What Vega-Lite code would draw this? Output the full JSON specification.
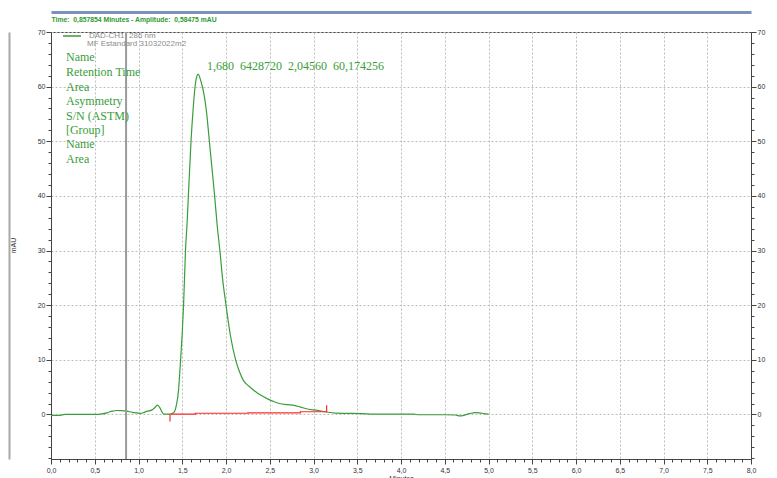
{
  "$schema": "https://vega.github.io/schema/vega-lite/v6.json",
  "width": 700,
  "height": 427,
  "autosize": {"type": "none"},
  "padding": {"left": 51, "top": 32, "right": 26, "bottom": 19},
  "background": "white",
  "config": {
    "view": {"stroke": "#4a4a4a", "strokeWidth": 1},
    "font": "Liberation Sans"
  },
  "datasets": {
    "signal": [
      {"t": 0.0, "v": -0.15}, {"t": 0.1, "v": -0.15}, {"t": 0.16, "v": 0.0}, {"t": 0.3, "v": 0.0},
      {"t": 0.5, "v": 0.0}, {"t": 0.58, "v": 0.1}, {"t": 0.64, "v": 0.3}, {"t": 0.7, "v": 0.6},
      {"t": 0.75, "v": 0.73}, {"t": 0.8, "v": 0.7}, {"t": 0.865, "v": 0.6}, {"t": 0.93, "v": 0.4},
      {"t": 0.98, "v": 0.3}, {"t": 1.02, "v": 0.2}, {"t": 1.06, "v": 0.35}, {"t": 1.1, "v": 0.6},
      {"t": 1.15, "v": 0.8}, {"t": 1.19, "v": 1.3}, {"t": 1.215, "v": 1.7}, {"t": 1.245, "v": 1.2},
      {"t": 1.27, "v": 0.4}, {"t": 1.29, "v": 0.05}, {"t": 1.36, "v": 0.05}, {"t": 1.4, "v": 0.3},
      {"t": 1.43, "v": 1.5}, {"t": 1.455, "v": 4.0}, {"t": 1.477, "v": 9.0}, {"t": 1.5, "v": 15.0},
      {"t": 1.515, "v": 20.0}, {"t": 1.537, "v": 30.0}, {"t": 1.555, "v": 35.0}, {"t": 1.57, "v": 40.0},
      {"t": 1.6, "v": 50.0}, {"t": 1.625, "v": 56.0}, {"t": 1.645, "v": 59.8}, {"t": 1.665, "v": 61.8},
      {"t": 1.683, "v": 62.3}, {"t": 1.70, "v": 61.7}, {"t": 1.72, "v": 60.6}, {"t": 1.744, "v": 59.0},
      {"t": 1.78, "v": 55.0}, {"t": 1.81, "v": 50.0}, {"t": 1.84, "v": 45.0}, {"t": 1.87, "v": 40.0},
      {"t": 1.9, "v": 34.5}, {"t": 1.93, "v": 30.0}, {"t": 1.96, "v": 25.0}, {"t": 2.0, "v": 20.0},
      {"t": 2.05, "v": 14.5}, {"t": 2.11, "v": 10.0}, {"t": 2.15, "v": 8.0}, {"t": 2.2, "v": 6.2},
      {"t": 2.26, "v": 5.2}, {"t": 2.32, "v": 4.4}, {"t": 2.4, "v": 3.5}, {"t": 2.47, "v": 2.9},
      {"t": 2.54, "v": 2.4}, {"t": 2.61, "v": 2.0}, {"t": 2.7, "v": 1.8}, {"t": 2.78, "v": 1.65},
      {"t": 2.85, "v": 1.35}, {"t": 2.93, "v": 1.0}, {"t": 3.0, "v": 0.85}, {"t": 3.06, "v": 0.7},
      {"t": 3.15, "v": 0.45}, {"t": 3.25, "v": 0.25}, {"t": 3.4, "v": 0.2}, {"t": 3.55, "v": 0.15},
      {"t": 3.7, "v": 0.05}, {"t": 4.0, "v": 0.05}, {"t": 4.15, "v": 0.05}, {"t": 4.2, "v": -0.05},
      {"t": 4.5, "v": -0.05}, {"t": 4.62, "v": -0.1}, {"t": 4.66, "v": -0.25}, {"t": 4.72, "v": -0.15},
      {"t": 4.78, "v": 0.15}, {"t": 4.85, "v": 0.35}, {"t": 4.9, "v": 0.3}, {"t": 4.95, "v": 0.15},
      {"t": 5.0, "v": 0.05}
    ],
    "baseline": [
      {"t": 1.37, "v": 0.05}, {"t": 1.65, "v": 0.22}, {"t": 2.25, "v": 0.3}, {"t": 2.85, "v": 0.5}, {"t": 3.15, "v": 0.5}
    ],
    "marks": [
      {"t": 1.36, "v": 0.1, "v2": -1.3},
      {"t": 3.15, "v": 0.4, "v2": 1.7}
    ],
    "cursor": [{"t": 0.858}],
    "labels": [
      {"label": "Name", "t": 0.171, "v": 65.37},
      {"label": "Retention Time", "t": 0.171, "v": 62.73},
      {"label": "Area", "t": 0.171, "v": 59.98},
      {"label": "Asymmetry", "t": 0.171, "v": 57.37},
      {"label": "S/N (ASTM)", "t": 0.171, "v": 54.67},
      {"label": "[Group]", "t": 0.171, "v": 52.07},
      {"label": "Name", "t": 0.171, "v": 49.45},
      {"label": "Area", "t": 0.171, "v": 46.81},
      {"label": "1,680\u00a0\u00a06428720\u00a0\u00a02,04560\u00a0\u00a060,174256", "t": 1.783, "v": 63.8}
    ],
    "sublegend": [{"label": "MF Estandard 31032022m2", "t": 0.411, "v": 67.8}]
  },
  "resolve": {"axis": {"x": "independent", "y": "independent"}},
  "layer": [
    {
      "data": {"name": "signal"},
      "mark": {"type": "line", "strokeWidth": 1.2, "interpolate": "monotone"},
      "encoding": {
        "x": {
          "field": "t", "type": "quantitative",
          "scale": {"domain": [0, 8], "nice": false, "zero": false},
          "axis": {
            "title": "Minutes", "titleFontSize": 7, "titleColor": "#333", "titleFontWeight": "normal",
            "titleBaseline": "top", "titleY": 15,
            "values": [0,0.1,0.2,0.3,0.4,0.5,0.6,0.7,0.8,0.9,1,1.1,1.2,1.3,1.4,1.5,1.6,1.7,1.8,1.9,2,2.1,2.2,2.3,2.4,2.5,2.6,2.7,2.8,2.9,3,3.1,3.2,3.3,3.4,3.5,3.6,3.7,3.8,3.9,4,4.1,4.2,4.3,4.4,4.5,4.6,4.7,4.8,4.9,5,5.1,5.2,5.3,5.4,5.5,5.6,5.7,5.8,5.9,6,6.1,6.2,6.3,6.4,6.5,6.6,6.7,6.8,6.9,7,7.1,7.2,7.3,7.4,7.5,7.6,7.7,7.8,7.9,8],
            "labelExpr": "abs(datum.value*2 - round(datum.value*2)) < 0.01 ? replace(format(datum.value, '.1f'), '.', ',') : ''",
            "labelFontSize": 7, "labelColor": "#333", "labelPadding": 2,
            "labelFlush": false, "labelOverlap": false, "labelBound": false,
            "tickSize": {"condition": {"test": "abs(datum.value*2 - round(datum.value*2)) < 0.01", "value": 5}, "value": 3},
            "tickColor": "#444", "domainColor": "#444",
            "grid": true, "gridColor": "#bdbdbd", "gridDash": [2, 2],
            "gridOpacity": {"condition": {"test": "abs(datum.value*2 - round(datum.value*2)) < 0.01", "value": 1}, "value": 0}
          }
        },
        "y": {
          "field": "v", "type": "quantitative",
          "scale": {"domain": [-8.15, 70], "nice": false, "zero": false},
          "axis": {
            "title": "mAU", "titleFontSize": 7, "titleColor": "#333", "titleFontWeight": "normal",
            "titleAngle": -90, "titleX": -38, "titleY": 213, "titleAlign": "center", "titleBaseline": "middle",
            "values": [-8,-6,-4,-2,0,2,4,6,8,10,12,14,16,18,20,22,24,26,28,30,32,34,36,38,40,42,44,46,48,50,52,54,56,58,60,62,64,66,68,70],
            "labelExpr": "datum.value % 10 === 0 ? format(datum.value, 'd') : ''",
            "labelFontSize": 7, "labelColor": "#333", "labelPadding": 1,
            "labelFlush": false, "labelOverlap": false, "labelBound": false,
            "tickSize": {"condition": {"test": "datum.value % 10 === 0", "value": 5}, "value": 3},
            "tickColor": "#444", "domainColor": "#444",
            "grid": true, "gridColor": "#bdbdbd", "gridDash": [2, 2],
            "gridOpacity": {"condition": {"test": "datum.value % 10 === 0", "value": 1}, "value": 0}
          }
        },
        "color": {
          "datum": "DAD-CH1\u00a0\u00a0286 nm",
          "scale": {"domain": ["DAD-CH1\u00a0\u00a0286 nm"], "range": ["#3a9d3a"]},
          "legend": {
            "orient": "none", "legendX": 11, "legendY": -6, "title": null,
            "symbolType": "stroke", "symbolSize": 324, "symbolStrokeWidth": 1.5,
            "labelFontSize": 8, "labelColor": "#8c8c8c", "labelOffset": 7, "padding": 0
          }
        }
      }
    },
    {
      "data": {"name": "baseline"},
      "mark": {"type": "line", "color": "#ff2a2a", "strokeWidth": 1.2, "interpolate": "step-after"},
      "encoding": {
        "x": {"field": "t", "type": "quantitative", "axis": null},
        "y": {
          "field": "v", "type": "quantitative",
          "axis": {
            "orient": "right", "title": null,
            "values": [-8,-6,-4,-2,0,2,4,6,8,10,12,14,16,18,20,22,24,26,28,30,32,34,36,38,40,42,44,46,48,50,52,54,56,58,60,62,64,66,68,70],
            "labelExpr": "datum.value % 10 === 0 ? format(datum.value, 'd') : ''",
            "labelFontSize": 7, "labelColor": "#333", "labelPadding": 1,
            "labelFlush": false, "labelOverlap": false, "labelBound": false,
            "tickSize": {"condition": {"test": "datum.value % 10 === 0", "value": 5}, "value": 3},
            "tickColor": "#444", "domainColor": "#444", "grid": false
          }
        }
      }
    },
    {
      "data": {"name": "marks"},
      "mark": {"type": "rule", "color": "#ff2a2a", "strokeWidth": 1.2},
      "encoding": {
        "x": {"field": "t", "type": "quantitative", "axis": null},
        "y": {"field": "v", "type": "quantitative", "axis": null},
        "y2": {"field": "v2"}
      }
    },
    {
      "data": {"name": "cursor"},
      "mark": {"type": "rule", "color": "#9a9a9a", "strokeWidth": 2},
      "encoding": {
        "x": {
          "field": "t", "type": "quantitative",
          "axis": {
            "orient": "top", "offset": 20, "domainColor": "#7a93b8", "domainWidth": 3,
            "ticks": false, "labels": false, "grid": false,
            "title": "Time:\u00a0\u00a00,857854 Minutes - Amplitude:\u00a0\u00a00,58475 mAU",
            "titleX": 0, "titleY": 7, "titleAlign": "left", "titleAnchor": "start", "titleBaseline": "middle",
            "titleColor": "#2e9a2e", "titleFontSize": 6.8, "titleFontWeight": "bold"
          }
        }
      }
    },
    {
      "data": {"name": "cursor"},
      "mark": {"type": "rule", "opacity": 0},
      "encoding": {
        "x": {"field": "t", "type": "quantitative", "axis": null},
        "y": {
          "datum": 0, "type": "quantitative",
          "axis": {
            "orient": "left", "offset": 42, "domainColor": "#a8a8a8", "domainWidth": 2,
            "ticks": false, "labels": false, "grid": false, "title": null
          }
        }
      }
    },
    {
      "data": {"name": "labels"},
      "mark": {"type": "text", "align": "left", "baseline": "middle", "font": "Liberation Serif", "fontSize": 12, "color": "#3a9d3a"},
      "encoding": {
        "x": {"field": "t", "type": "quantitative", "axis": null},
        "y": {"field": "v", "type": "quantitative", "axis": null},
        "text": {"field": "label"}
      }
    },
    {
      "data": {"name": "sublegend"},
      "mark": {"type": "text", "align": "left", "baseline": "middle", "fontSize": 8, "color": "#8c8c8c"},
      "encoding": {
        "x": {"field": "t", "type": "quantitative", "axis": null},
        "y": {"field": "v", "type": "quantitative", "axis": null},
        "text": {"field": "label"}
      }
    }
  ]
}
